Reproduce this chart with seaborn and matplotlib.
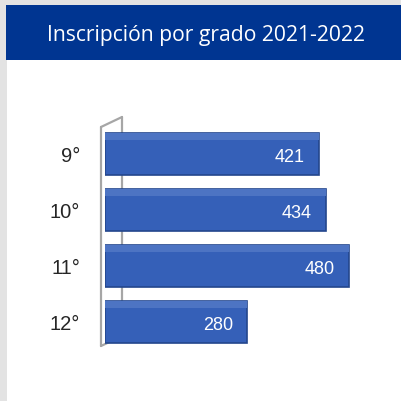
import pandas as pd
import matplotlib.pyplot as plt
import seaborn as sns
from matplotlib.patches import Rectangle

# --- Datos ---
grados = ["9°", "10°", "11°", "12°"]
inscripcion = [421, 434, 480, 280]
titulo = "Inscripción por grado 2021-2022"

df = pd.DataFrame({"grado": grados, "inscripcion": inscripcion})

sns.set_theme(style="white")
plt.rcParams["font.family"] = ["Open Sans", "DejaVu Sans"]

W = H = 402
fig = plt.figure(figsize=(4.02, 4.02), dpi=100)
fig.patch.set_facecolor("#e3e3e3")

# panel blanco y franja del titulo
fig.patches.append(Rectangle((7 / W, 0), 1, 1 - 61 / H, transform=fig.transFigure,
                             facecolor="white", edgecolor="none", zorder=0))
fig.patches.append(Rectangle((6 / W, 1 - 61 / H), 1, 55 / H, transform=fig.transFigure,
                             facecolor="#003591", edgecolor="none", zorder=1))
fig.text(206 / W, 1 - 35 / H, titulo, color="white", fontsize=15.2,
         ha="center", va="center")

# pared 3D del eje
wall = dict(color="#a6a6a6", lw=1.6, transform=fig.transFigure, zorder=2)
fx, bx = 101 / W, 122 / W
fig.lines.append(plt.Line2D([fx, fx], [1 - 128 / H, 1 - 347 / H], **wall))
fig.lines.append(plt.Line2D([bx, bx], [1 - 118 / H, 1 - 337 / H], **wall))
fig.lines.append(plt.Line2D([fx, bx], [1 - 128 / H, 1 - 118 / H], **wall))
fig.lines.append(plt.Line2D([fx, bx], [1 - 347 / H, 1 - 337 / H], **wall))

# --- Grafico ---
ax = fig.add_axes([105 / W, 1 - 351 / H, 277 / W, 224 / H])
ax.set_zorder(3)
ax.set_facecolor("none")
sns.barplot(data=df, x="inscripcion", y="grado", orient="h", color="#3560b8",
            saturation=1, width=0.76, edgecolor="#23468c", linewidth=1.2, ax=ax)
for bar, v in zip(ax.patches, inscripcion):
    x0, y0 = bar.get_x(), bar.get_y()
    w, h = bar.get_width(), bar.get_height()
    # cara superior
    ax.add_patch(Rectangle((x0, y0), w, h * 0.17, facecolor="#4d74c3",
                           edgecolor="none", zorder=3))
    ax.text(x0 + w - 28, y0 + h / 2 + 0.05, str(v), color="white", fontsize=13,
            ha="right", va="center", family=["Liberation Sans"], zorder=4)

ax.set_xlim(0, 545)
ax.set_xlabel("")
ax.set_ylabel("")
ax.set_xticks([])
ax.tick_params(axis="y", length=0, pad=18, labelsize=14.5)
for lab in ax.get_yticklabels():
    lab.set_family(["Liberation Sans"])
sns.despine(ax=ax, left=True, bottom=True)

plt.savefig("out.png", dpi=100, facecolor=fig.get_facecolor())
